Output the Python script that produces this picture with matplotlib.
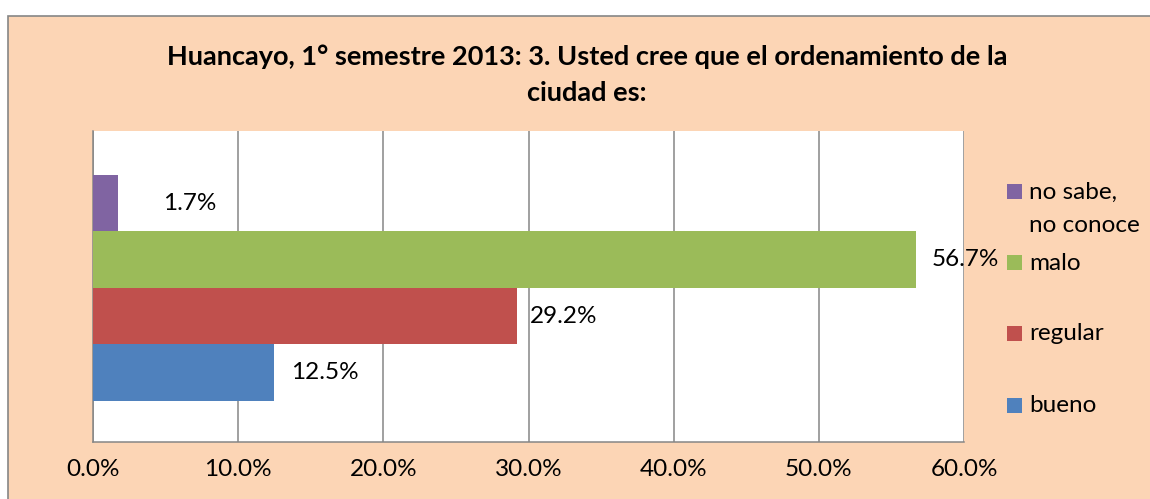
import matplotlib
matplotlib.use("Agg")
import matplotlib.pyplot as plt
from matplotlib.patches import Rectangle

categories = ["bueno", "regular", "malo", "no sabe,\nno conoce"]
values = [12.5, 29.2, 56.7, 1.7]
colors = ["#4F81BD", "#C0504D", "#9BBB59", "#8064A2"]
xticks = [0, 10, 20, 30, 40, 50, 60]
xtick_labels = ["0.0%", "10.0%", "20.0%", "30.0%", "40.0%", "50.0%", "60.0%"]
title = "Huancayo, 1° semestre 2013: 3. Usted cree que el ordenamiento de la\nciudad es:"

plt.rcParams['font.family'] = ['Lato', 'DejaVu Sans']
W, H = 1150, 499
fig = plt.figure(figsize=(W / 100, H / 100), dpi=100)
fig.patch.set_facecolor("white")

peach = "#FCD5B5"
grid_c = "#868686"
FS = 17.5
# outer chart frame (cropped on right/bottom)
fig.add_artist(Rectangle((8 / W, -20 / H), (W + 20) / W, (H - 16 + 20) / H,
                         transform=fig.transFigure, facecolor=peach,
                         edgecolor=grid_c, linewidth=1.2, zorder=0))

ax = fig.add_axes([93 / W, (H - 442) / H, (964 - 93) / W, (442 - 131) / H])
ax.set_facecolor("white")
ax.set_zorder(1)

pos = list(range(len(values)))
bars = ax.barh(pos, values, height=1.0, color=colors, zorder=3)
ax.set_xlim(0, 60)
ax.set_ylim(-1.23, 4.28)
ax.set_xticks(xticks)
ax.set_xticklabels(xtick_labels, fontsize=FS)
ax.set_yticks([])
ax.tick_params(axis="x", length=0, pad=12)
ax.grid(axis="x", color=grid_c, linewidth=1.1, zorder=1)
for s in ["top", "right"]:
    ax.spines[s].set_visible(False)
for s in ["left", "bottom"]:
    ax.spines[s].set_color(grid_c)
    ax.spines[s].set_linewidth(1.1)

offsets = [17, 13, 16, 45]
for b, v, off in zip(bars, values, offsets):
    ax.annotate(f"{v:.1f}%", (v, b.get_y() + b.get_height() / 2),
                xytext=(off, 0), textcoords="offset pixels",
                ha="left", va="center", fontsize=FS, zorder=5,
                annotation_clip=False)

title_lines = title.split("\n")
fig.text(587 / W, 1 - 57 / H, title_lines[0], ha="center", va="center",
         fontsize=19.5, fontweight="bold")
fig.text(587 / W, 1 - 93 / H, title_lines[1], ha="center", va="center",
         fontsize=19.5, fontweight="bold")

# legend (top entry first)
leg_y = [192, 263, 334, 406]
for lab, col, y in zip(categories[::-1], colors[::-1], leg_y):
    fig.add_artist(Rectangle((1007 / W, 1 - (y + 7) / H), 15 / W, 15 / H,
                             transform=fig.transFigure, facecolor=col,
                             edgecolor="none", zorder=4))
    for k, line in enumerate(lab.split("\n")):
        fig.text(1029 / W, 1 - (y + 33 * k) / H, line, ha="left",
                 va="center", fontsize=FS)

fig.savefig("out.png", dpi=100, facecolor="white")
